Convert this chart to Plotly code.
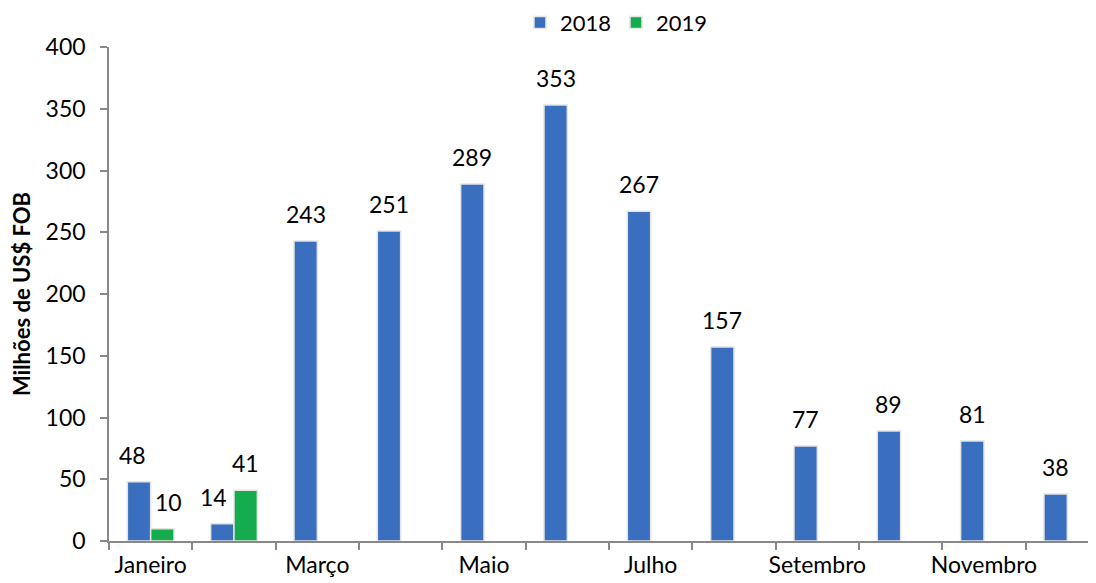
import plotly.graph_objects as go

months = ["Janeiro", "Fevereiro", "Março", "Abril", "Maio", "Junho",
          "Julho", "Agosto", "Setembro", "Outubro", "Novembro", "Dezembro"]
v2018 = [48, 14, 243, 251, 289, 353, 267, 157, 77, 89, 81, 38]
v2019 = [10, 41]
y_ticks = [0, 50, 100, 150, 200, 250, 300, 350, 400]
label_idx = [0, 2, 4, 6, 8, 10]

FONT = "Lato"
x_all = list(range(len(months)))
BARGAP = 0.44
HALF = (1 - BARGAP) / 4  # offset of each bar centre from category centre

fig = go.Figure()
fig.add_trace(go.Bar(
    x=x_all, y=v2018, name="2018",
    marker=dict(color="#3a6fbf", line=dict(color="#e4e4e4", width=1.5)),
))
fig.add_trace(go.Bar(
    x=x_all[:len(v2019)], y=v2019, name="2019",
    marker=dict(color="#14ac4d", line=dict(color="#e4e4e4", width=1.5)),
))

# small horizontal nudges so crowded labels don't collide (style only)
nudge = {("2018", 0): -7, ("2019", 0): 6, ("2018", 1): -9}

annotations = []
for name, series, off in (("2018", v2018, -HALF), ("2019", v2019, HALF)):
    for i, v in enumerate(series):
        annotations.append(dict(
            x=i + off, y=v, xref="x", yref="y", text=str(v),
            showarrow=False, yanchor="middle", yshift=27,
            xshift=nudge.get((name, i), 0),
            font=dict(family=FONT, size=23, color="#000"),
        ))

PLOT_W = 1096 - 101
fig.update_layout(
    width=1096, height=583,
    paper_bgcolor="white", plot_bgcolor="white",
    margin=dict(l=101, r=0, t=39, b=50, autoexpand=False),
    barmode="group", bargap=BARGAP, bargroupgap=0.0,
    font=dict(family=FONT, size=22, color="#000"),
    annotations=annotations,
    showlegend=True,
    legend=dict(orientation="h", x=0.51, xanchor="center",
                yref="container", y=0.975, yanchor="middle",
                font=dict(family=FONT, size=22), itemwidth=30, traceorder="normal"),
    xaxis=dict(
        range=[-0.5, -0.5 + PLOT_W / 83.33],
        tickmode="array", tickvals=label_idx,
        ticktext=[months[i] for i in label_idx],
        ticks="", showgrid=False, zeroline=False,
        showline=True, linecolor="#888", linewidth=1.5,
        tickfont=dict(family=FONT, size=23),
        ticklabelstandoff=3,
        minor=dict(ticks="outside", tick0=-0.5, dtick=1, ticklen=7,
                   tickcolor="#888", tickwidth=1.5, showgrid=False),
    ),
    yaxis=dict(
        range=[0, 400], tickvals=y_ticks,
        ticks="outside", ticklen=7, tickcolor="#888", tickwidth=1.5,
        ticklabelstandoff=10,
        showline=True, linecolor="#888", linewidth=1.5,
        showgrid=False, zeroline=False,
        tickfont=dict(family=FONT, size=23),
        title=dict(text="<b>Milhões de US$ FOB</b>", font=dict(family=FONT, size=22), standoff=12),
    ),
)

fig.write_html("out.html")
